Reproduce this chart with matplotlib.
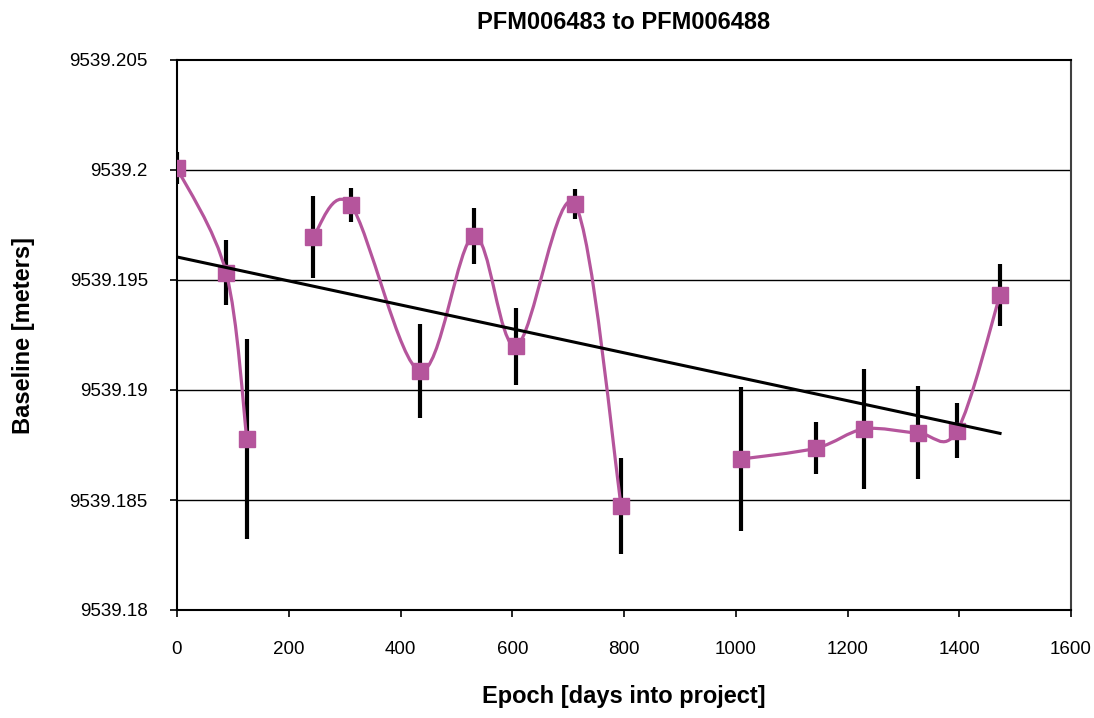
import matplotlib.pyplot as plt
import numpy as np
from matplotlib.path import Path
from matplotlib.patches import PathPatch

plt.rcParams["font.family"] = ["Liberation Sans", "DejaVu Sans"]

# epoch in days into the project, baseline length and its 1-sigma error (m)
epoch = [0, 88, 125, 243, 311, 435, 531, 607, 712, 795,
         1009, 1144, 1230, 1326, 1396, 1473]
baseline = [9539.20009, 9539.19533, 9539.18777, 9539.19695, 9539.19841,
            9539.19086, 9539.19700, 9539.19200, 9539.19845, 9539.18473,
            9539.18686, 9539.18736, 9539.18823, 9539.18805, 9539.18814,
            9539.19432]
sigma = [0.00073, 0.00148, 0.00454, 0.00186, 0.00077, 0.00214, 0.00127,
         0.00175, 0.00068, 0.00218, 0.00327, 0.00120, 0.00273, 0.00211,
         0.00125, 0.00139]
# the connecting line is broken into runs (start, stop) of point indices
runs = [(0, 3), (3, 10), (10, 16)]

yticks = [9539.18, 9539.185, 9539.19, 9539.195, 9539.2, 9539.205]
ytick_labels = ["9539.18", "9539.185", "9539.19", "9539.195", "9539.2", "9539.205"]
xticks = [0, 200, 400, 600, 800, 1000, 1200, 1400, 1600]

pink = "#B5559C"

fig = plt.figure(figsize=(10.94, 7.18), dpi=100)
ax = fig.add_axes([177 / 1094, 1 - 610 / 718, 894 / 1094, 550 / 718])
ax.set_xlim(0, 1600)
ax.set_ylim(9539.18, 9539.205)

for yv in yticks[1:-1]:
    ax.axhline(yv, color="black", lw=1.0, zorder=1)

ax.errorbar(epoch, baseline, yerr=sigma, fmt="none", ecolor="black",
            elinewidth=3, capsize=0, zorder=2)


def smooth_path(xs, ys):
    # Catmull-Rom style Bezier through the points, built in screen space
    pts = ax.transData.transform(np.column_stack([xs, ys]))
    padded = np.vstack([pts[0], pts, pts[-1]])
    verts, codes = [pts[0]], [Path.MOVETO]
    for i in range(len(pts) - 1):
        p0, p1, p2, p3 = padded[i], padded[i + 1], padded[i + 2], padded[i + 3]
        verts += [p1 + (p2 - p0) / 6, p2 - (p3 - p1) / 6, p2]
        codes += [Path.CURVE4] * 3
    return Path(ax.transData.inverted().transform(np.array(verts)), codes)


for a, b in runs:
    ax.add_patch(PathPatch(smooth_path(epoch[a:b], baseline[a:b]),
                           facecolor="none", edgecolor=pink, lw=2.3, zorder=3))

ax.plot(epoch, baseline, ls="none", marker="s", ms=12, color=pink,
        mec=pink, zorder=4)

# linear trend
coef = np.polyfit(epoch, baseline, 1)
xt = np.array([epoch[0], epoch[-1]])
ax.plot(xt, np.polyval(coef, xt), color="black", lw=2.2, zorder=5)

ax.set_xticks(xticks)
ax.set_yticks(yticks)
ax.set_yticklabels(ytick_labels)
ax.tick_params(axis="both", direction="out", length=5, width=1.2,
               labelsize=13.5, colors="black")
ax.tick_params(axis="x", pad=17)
ax.tick_params(axis="y", pad=16)
for s in ax.spines.values():
    s.set_linewidth(1.5)
    s.set_color("black")
ax.spines["right"].set_color("#404040")

ax.set_title("PFM006483 to PFM006488", fontsize=17, fontweight="bold", pad=22)
ax.set_xlabel("Epoch [days into project]", fontsize=17, fontweight="bold",
              labelpad=20)
ax.set_ylabel("Baseline [meters]", fontsize=17, fontweight="bold",
              labelpad=25)

fig.savefig("out.png", dpi=100)
